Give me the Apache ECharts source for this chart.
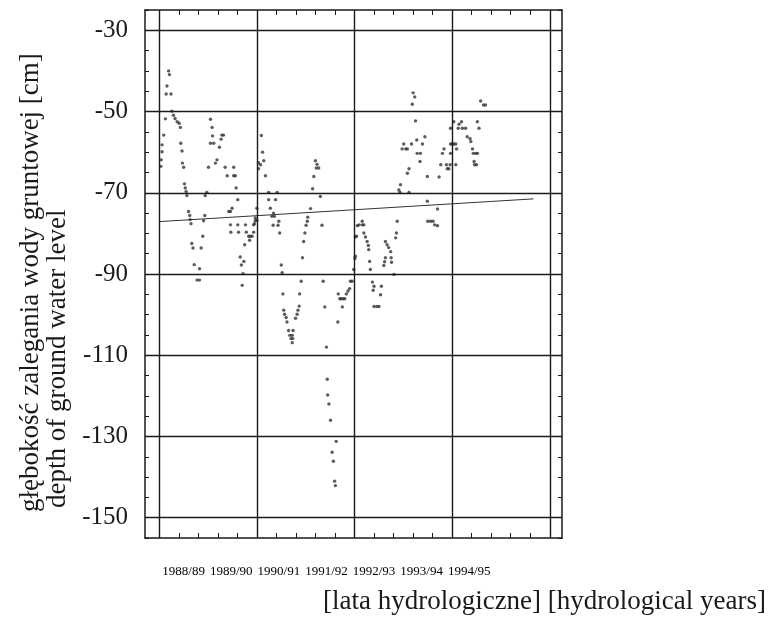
<!DOCTYPE html>
<html>
<head>
<meta charset="utf-8">
<script src="https://cdn.jsdelivr.net/npm/echarts@6/dist/echarts.min.js"></script>
<style>
  html, body { margin: 0; padding: 0; background: #ffffff; }
  #chart { width: 771px; height: 620px; }
</style>
</head>
<body>
<div id="chart"></div>
<script>
// ---- axis / tick definitions (months since start of hydrological year 1988/89, depth in cm) ----
const yTickLabels = [-150, -130, -110, -90, -70, -50, -30];
const yMinorTicks = [-155, -150, -145, -140, -135, -130, -125, -120, -115, -110, -105, -100, -95, -90,
  -85, -80, -75, -70, -65, -60, -55, -50, -45, -40, -35, -30, -25];
const xGridMonths = [0, 24, 48, 72, 96];
const xMinorTicks = [0, 4.8, 9.6, 14.4, 19.2, 24, 28.8, 33.6, 38.4, 43.2, 48, 52.8, 57.6, 62.4, 67.2,
  72, 76.8, 81.6, 86.4, 91.2, 96];
const yearLabels = ['1988/89', '1989/90', '1990/91', '1991/92', '1992/93', '1993/94', '1994/95'];
const yearCenters = [6, 17.7, 29.4, 41.1, 52.8, 64.5, 76.2];

// ---- trend line ----
const trendMonths = [0, 92];
const trendDepths = [-77.1, -71.5];

// ---- observations [month, depth cm] per hydrological year ----
const obs1988 = [
  [2.3, -40.0], [2.5, -40.9], [1.9, -43.7], [1.7, -45.7], [2.9, -45.7], [3.1, -49.9], [3.5, -50.9],
  [3.9, -51.7], [4.4, -52.5], [4.9, -52.9], [5.2, -53.9], [1.5, -51.8], [1.1, -55.8], [0.7, -58.2],
  [0.7, -59.9], [0.5, -61.9], [0.4, -63.5], [5.3, -57.8], [5.6, -59.7], [5.7, -62.7], [6.0, -63.7],
  [6.2, -67.8], [6.4, -68.8], [6.6, -69.7], [6.8, -70.7], [7.2, -74.6], [7.5, -75.6], [7.6, -76.6],
  [7.8, -77.6], [8.0, -82.5], [8.3, -83.6], [8.6, -87.7], [9.3, -91.5], [9.9, -91.5], [9.9, -88.7],
  [10.3, -83.6], [10.7, -80.7], [10.9, -76.9], [11.2, -75.6], [11.3, -70.7], [11.7, -69.9], [12.1, -63.7]
];
const obs1989 = [
  [12.6, -51.9], [13.0, -53.9], [13.1, -56.0], [12.6, -57.8], [13.4, -57.8], [13.8, -62.7], [14.2, -61.9],
  [14.8, -58.8], [15.2, -56.8], [15.4, -55.8], [15.8, -55.8], [16.2, -63.7], [16.7, -65.8], [18.3, -63.7],
  [18.3, -65.8], [18.7, -65.8], [18.9, -68.8], [19.3, -71.7], [17.9, -73.8], [17.1, -74.6], [17.5, -74.6],
  [17.5, -77.9], [17.6, -79.7], [19.3, -77.9], [19.5, -79.7], [21.2, -77.9], [21.4, -79.7], [22.0, -80.7],
  [22.4, -80.7], [22.2, -81.7], [21.0, -82.8], [19.9, -85.8], [20.8, -86.9], [20.2, -87.8], [20.6, -89.9],
  [20.4, -92.8], [23.2, -77.9], [23.2, -79.7], [23.6, -76.9], [22.8, -80.7]
];
const obs1990 = [
  [24.0, -73.8], [23.6, -76.2], [24.0, -76.8], [23.4, -77.6], [25.1, -55.9], [25.4, -60.0], [25.7, -62.1],
  [24.4, -62.6], [24.9, -63.1], [24.4, -64.1], [26.1, -65.8], [26.9, -69.9], [29.0, -69.9], [26.9, -71.7],
  [28.6, -71.7], [27.3, -73.8], [28.1, -75.0], [27.7, -75.8], [28.3, -75.8], [28.0, -78.0], [29.2, -78.0],
  [29.4, -77.0], [29.6, -79.9], [30.0, -87.8], [30.2, -89.7], [30.4, -94.9], [30.6, -98.9], [30.8, -99.9],
  [31.2, -100.7], [31.4, -101.8], [31.8, -103.9], [32.9, -103.9], [32.1, -105.1], [32.7, -105.1],
  [32.4, -105.9], [32.8, -105.9], [32.7, -106.9], [33.5, -100.9], [33.9, -99.9], [34.1, -98.9],
  [34.4, -97.9], [34.5, -94.9], [34.9, -91.8], [35.2, -86.0], [35.5, -82.0], [35.8, -79.9]
];
const obs1991 = [
  [36.1, -78.0], [36.4, -77.0], [36.5, -76.0], [37.2, -73.9], [37.7, -69.0], [38.0, -66.0], [38.4, -62.1],
  [38.8, -63.0], [38.6, -63.9], [39.2, -63.9], [39.6, -70.9], [40.0, -78.0], [40.3, -91.8], [40.7, -98.1],
  [41.1, -108.0], [41.3, -115.9], [41.4, -119.8], [41.7, -122.0], [42.1, -126.0], [43.5, -131.2],
  [42.5, -133.9], [42.8, -136.1], [43.1, -141.0], [43.3, -142.1], [43.9, -101.8], [44.0, -94.9],
  [44.4, -96.1], [44.7, -96.1], [45.2, -96.1], [45.6, -96.1], [45.0, -98.1], [46.0, -94.9], [46.4, -94.2],
  [46.8, -93.6], [47.0, -91.8], [47.4, -91.8], [47.8, -88.9]
];
const obs1992 = [
  [48.2, -85.6], [48.5, -80.7], [48.7, -78.1], [49.9, -77.0], [49.1, -77.9], [49.9, -77.9], [50.3, -77.9],
  [48.2, -80.9], [50.3, -79.9], [50.7, -80.9], [51.1, -82.0], [51.4, -83.0], [51.5, -84.0], [48.1, -86.2],
  [51.7, -86.9], [51.9, -88.9], [52.4, -92.0], [52.8, -93.0], [52.6, -94.0], [54.6, -93.0], [54.4, -95.1],
  [52.8, -98.0], [53.5, -98.0], [54.0, -98.0], [58.5, -77.0], [58.3, -79.9], [58.1, -81.1], [55.6, -82.0],
  [56.0, -82.8], [56.4, -83.5], [56.9, -84.5], [55.6, -86.0], [55.4, -87.0], [57.0, -86.0], [57.1, -87.1],
  [57.7, -90.1], [55.2, -87.9], [59.3, -68.0], [58.9, -69.3], [59.2, -69.9]
];
const obs1993 = [
  [61.4, -69.9], [62.4, -45.4], [62.8, -46.4], [62.2, -48.2], [63.0, -52.3], [65.3, -56.2], [63.3, -57.0],
  [60.1, -58.0], [62.0, -58.0], [59.7, -59.2], [60.6, -59.2], [61.0, -59.2], [64.7, -58.0], [63.4, -60.3],
  [64.2, -60.3], [64.1, -62.3], [61.4, -64.1], [61.0, -65.2], [65.9, -66.0], [65.9, -72.1], [68.4, -74.0],
  [66.0, -77.0], [66.7, -77.0], [67.3, -77.0], [67.7, -77.9], [68.4, -78.1], [68.8, -66.1], [69.2, -63.1],
  [70.6, -63.1], [71.5, -63.1], [70.8, -64.1], [71.2, -64.1], [70.0, -59.2], [69.6, -60.3], [71.6, -58.0]
];
const obs1994 = [
  [72.0, -58.0], [72.4, -58.0], [72.9, -58.0], [73.1, -59.2], [72.9, -63.1], [71.6, -60.3], [71.6, -54.1],
  [72.4, -52.5], [73.7, -53.1], [74.3, -52.5], [73.5, -54.1], [74.5, -54.1], [75.3, -54.1], [78.2, -52.5],
  [78.6, -54.1], [75.7, -56.2], [76.4, -56.7], [76.6, -57.4], [77.0, -59.2], [77.2, -60.3], [77.8, -60.3],
  [78.2, -60.3], [77.4, -62.3], [77.5, -63.1], [78.0, -63.1], [79.0, -47.4], [79.7, -48.4], [80.2, -48.4]
];

const observations = [].concat(obs1988, obs1989, obs1990, obs1991, obs1992, obs1993, obs1994);

const serif = 'Liberation Serif, "Times New Roman", serif';
const ink = '#1a1a1a';

const chart = echarts.init(document.getElementById('chart'), null, { renderer: 'canvas' });

const gridLines = yTickLabels.map(v => ({ yAxis: v })).concat(xGridMonths.map(v => ({ xAxis: v })));

const frameAxisBase = {
  type: 'value',
  axisLine: { show: true, onZero: false, lineStyle: { color: ink, width: 1.5 } },
  splitLine: { show: false }
};

chart.setOption({
  animation: false,
  backgroundColor: '#ffffff',
  grid: { left: 145, top: 10, width: 417, height: 528, containLabel: false },
  xAxis: [
    Object.assign({}, frameAxisBase, {
      position: 'bottom', min: -3.5, max: 99,
      axisTick: { show: true, inside: true, length: 5, customValues: xMinorTicks, lineStyle: { color: ink, width: 1 } },
      axisLabel: {
        show: true, customValues: yearCenters, margin: 27,
        fontFamily: serif, fontSize: 13, color: '#000',
        formatter: function (v) {
          let best = 0;
          yearCenters.forEach((c, i) => { if (Math.abs(c - v) < Math.abs(yearCenters[best] - v)) best = i; });
          return yearLabels[best];
        }
      }
    }),
    Object.assign({}, frameAxisBase, {
      position: 'top', min: -3.5, max: 99,
      axisTick: { show: true, inside: true, length: 5, customValues: xMinorTicks, lineStyle: { color: ink, width: 1 } },
      axisLabel: { show: false }
    })
  ],
  yAxis: [
    Object.assign({}, frameAxisBase, {
      position: 'left', min: -155, max: -25,
      axisTick: { show: true, inside: true, length: 4, customValues: yMinorTicks, lineStyle: { color: ink, width: 1 } },
      axisLabel: {
        show: true, customValues: yTickLabels, margin: 17,
        fontFamily: serif, fontSize: 25, color: ink
      }
    }),
    Object.assign({}, frameAxisBase, {
      position: 'right', min: -155, max: -25,
      axisTick: { show: true, inside: true, length: 4, customValues: yMinorTicks, lineStyle: { color: ink, width: 1 } },
      axisLabel: { show: false }
    })
  ],
  series: [
    {
      type: 'scatter',
      name: 'obs',
      xAxisIndex: 0, yAxisIndex: 0,
      data: observations,
      symbol: 'circle',
      symbolSize: 3.4,
      itemStyle: { color: '#333333' },
      silent: true,
      markLine: {
        silent: true,
        symbol: 'none',
        label: { show: false },
        lineStyle: { color: ink, width: 1.4, type: 'solid' },
        emphasis: { disabled: true },
        data: gridLines
      }
    },
    {
      type: 'line',
      name: 'trend',
      xAxisIndex: 0, yAxisIndex: 0,
      data: trendMonths.map((m, i) => [m, trendDepths[i]]),
      symbol: 'none',
      lineStyle: { color: '#333', width: 1 },
      silent: true
    }
  ],
  graphic: [
    {
      type: 'text', x: 31, y: 512, rotation: Math.PI / 2,
      style: { text: 'głębokość zalegania wody gruntowej [cm]', font: '27px ' + serif, fill: ink,
        textAlign: 'left', textVerticalAlign: 'middle' }
    },
    {
      type: 'text', x: 58, y: 508, rotation: Math.PI / 2,
      style: { text: 'depth of ground water level', font: '27px ' + serif, fill: ink,
        textAlign: 'left', textVerticalAlign: 'middle' }
    },
    {
      type: 'text', x: 766, y: 602,
      style: { text: '[lata hydrologiczne] [hydrological years]', font: '27px ' + serif, fill: ink,
        textAlign: 'right', textVerticalAlign: 'middle' }
    }
  ]
});
</script>
</body>
</html>
